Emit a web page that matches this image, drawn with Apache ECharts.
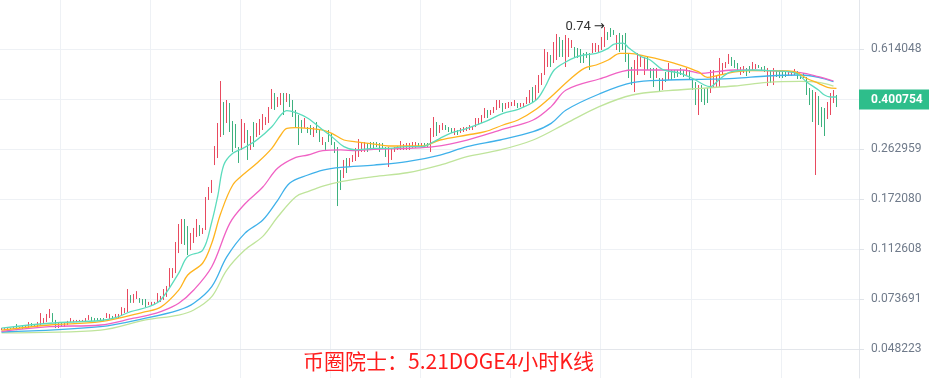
<!DOCTYPE html>
<html><head><meta charset="utf-8">
<script src="https://cdn.jsdelivr.net/npm/echarts@6/dist/echarts.min.js"></script>
<style>html,body{margin:0;padding:0;background:#fff}#c{width:929px;height:385px}</style>
</head><body><div id="c"></div>
<script>
// ---- data ----
const titleText = '币圈院士：5.21DOGE4小时K线';
const tickLabels = ['0.048223','0.073691','0.112608','0.172080','0.262959','0.401832','0.614048'];
const lastPrice = 0.400754;
const slotCount = 286; // 4h slots on the time axis (last few still empty)

const highs = [
.0576,.0576,.0576,.0576,.0581,.0596,.0581,.0586,.0591,.0606,
.0601,.0596,.0606,.0654,.0627,.0649,.0677,.0654,.0617,.0606,
.0601,.0601,.0612,.0627,.0617,.0617,.0617,.0617,.0627,.0643,
.0633,.0627,.0627,.0627,.0627,.0654,.0649,.0638,.0649,.0649,
.0688,.0683,.0802,.0762,.0769,.0788,.0743,.0737,.0737,.0719,
.0719,.0719,.0775,.0756,.0802,.0823,.0958,.0958,.1195,.1392,
.1452,.1452,.1368,.1290,.1346,.1452,.1380,.1346,.1750,.1905,
.2022,.2697,.3278,.4681,.3917,.3984,.3884,.3334,.3250,.2674,
.3391,.3278,.3089,.2936,.3306,.3278,.3391,.3538,.3449,.3754,
.4374,.4228,.4087,.4228,.4228,.4228,.4192,.3984,.3661,.3508,
.3362,.3420,.3168,.3223,.3168,.3306,.3089,.2911,.2790,.3089,
.3011,.2790,.2674,.2200,.2396,.2436,.2436,.2499,.2652,.2862,
.2767,.2790,.2767,.2790,.2790,.2790,.2767,.2767,.2674,.2674,
.2652,.2674,.2697,.2814,.2743,.2767,.2767,.2790,.2790,.2767,
.2767,.2767,.2767,.3142,.3449,.3306,.3223,.3278,.3223,.3168,
.3142,.3142,.3089,.3142,.3168,.3168,.3223,.3195,.3420,.3420,
.3508,.3723,.3661,.3661,.3754,.3984,.3984,.3884,.3884,.3917,
.3917,.3984,.3884,.3884,.3884,.4087,.4337,.4448,.4524,.4925,
.5010,.6140,.5986,.5836,.6516,.6974,.6799,.6628,.6915,.6742,
.6628,.6245,.6192,.6140,.5935,.5986,.5935,.6461,.6461,.6352,
.6799,.7400,.7093,.7337,.7215,.6915,.7034,.6915,.7034,.5935,
.5271,.5593,.5935,.5836,.5738,.5738,.5227,.5227,.5227,.4801,
.4801,.5053,.5453,.5139,.5139,.5139,.5227,.5139,.5227,.5139,
.4801,.4641,.4524,.4524,.4411,.4411,.5139,.5139,.4925,.5690,
.5453,.5499,.5886,.5738,.5593,.5453,.5271,.5316,.5227,.5316,
.5499,.5407,.5361,.5271,.5316,.5227,.5139,.5227,.5139,.5139,
.5053,.5053,.5096,.5053,.5183,.5096,.4967,.5010,.4842,.4411,
.4337,.4264,.4122,.3754,.3723,.3917,.4228,.4337,.4157
];
const lows = [
.0566,.0566,.0566,.0571,.0571,.0566,.0576,.0571,.0576,.0576,
.0581,.0581,.0581,.0591,.0601,.0606,.0627,.0606,.0576,.0576,
.0581,.0581,.0591,.0606,.0606,.0606,.0606,.0606,.0606,.0617,
.0612,.0612,.0612,.0612,.0612,.0627,.0622,.0622,.0627,.0627,
.0643,.0654,.0660,.0713,.0713,.0737,.0713,.0700,.0688,.0700,
.0700,.0706,.0713,.0719,.0731,.0750,.0816,.0881,.0918,.1088,
.1175,.1165,.1070,.1116,.1185,.1247,.1257,.1279,.1323,.1706,
.1811,.2295,.2436,.2911,.2961,.3278,.3037,.2564,.2652,.2336,
.2608,.2767,.2396,.2608,.2674,.2911,.2961,.3089,.3223,.3278,
.3692,.3661,.3754,.3818,.3508,.3917,.3754,.3449,.3142,.2720,
.3011,.3142,.3011,.2961,.2911,.3011,.2790,.2720,.2608,.2790,
.2720,.2542,.1621,.1857,.2056,.2145,.2257,.2355,.2375,.2457,
.2564,.2564,.2564,.2652,.2608,.2674,.2564,.2652,.2457,.2257,
.2396,.2564,.2608,.2608,.2608,.2608,.2608,.2652,.2652,.2674,
.2674,.2674,.2674,.2564,.2911,.2936,.3011,.3089,.3089,.3037,
.3011,.2961,.2961,.3011,.3037,.3063,.3089,.3089,.3168,.3223,
.3278,.3420,.3420,.3508,.3569,.3661,.3723,.3599,.3692,.3723,
.3786,.3786,.3723,.3754,.3754,.3851,.3884,.3917,.3984,.4228,
.4524,.4925,.5271,.5271,.5453,.5593,.5738,.5738,.5271,.5738,
.6192,.5738,.5690,.5453,.5453,.5690,.5139,.5935,.5986,.5935,
.6088,.6245,.6628,.6799,.6915,.6088,.5986,.6088,.5499,.4801,
.4524,.4264,.4925,.5271,.4925,.5139,.4801,.4448,.4801,.4264,
.4337,.4641,.4721,.4721,.4801,.4842,.4925,.4842,.4925,.4721,
.4337,.3818,.3508,.3917,.3818,.3884,.4228,.4411,.4448,.4448,
.4925,.5227,.5407,.5316,.5227,.5139,.4925,.5010,.4883,.5010,
.5096,.5183,.5227,.5139,.5053,.4486,.4602,.4524,.4842,.4801,
.4801,.4842,.4883,.4883,.4925,.4761,.4761,.4801,.4157,.3818,
.3306,.2109,.3223,.3168,.2936,.3391,.3508,.3884,.3754
];
// r = rising (red), g = falling (green)
const dirs =
'rrrgrgggrr'+'ggrrrrrggr'+'grrrrrrrrr'+'gggggrrgrr'+'rrrgrrgggr'+
'rrrrrrrrrr'+'rggrrrgrrr'+'rrrrgrgggg'+'rrgrgrrrrr'+'rgrrgrgggg'+
'grggrggrgg'+'ggggrgrrrr'+'rrgggggggr'+'rrrrrrrrrg'+'rggrrgrrgg'+
'grgrrrrrrr'+'rrgrrrrgrr'+'rrgrrrrgrr'+'rrrgrrggrr'+'rggggggrrr'+
'rrgggrgggg'+'grrrrgggrg'+'rgrgggggrg'+'ggrgggrrrr'+'rrrgggrrgg'+
'rrgggrgrgg'+'ggrrrggggg'+'grgggrrrg';

// moving average lines: [slot index, price]
const maTeal = [[0,.0576],[16,.0600],[33,.0614],[38,.0629],[43,.0662],[49,.0690],[53,.0731],[59,.0918],[62,.1056],[67,.1116],[70,.1416],[72,.1765],[74,.2295],[77,.2535],[81,.2667],[85,.2838],[90,.3176],[93,.3508],[95,.3640],[98,.3578],[102,.3412],[107,.3089],[110,.2919],[114,.2683],[118,.2608],[124,.2645],[129,.2645],[135,.2683],[140,.2683],[144,.2800],[146,.2879],[150,.3019],[155,.3133],[161,.3315],[167,.3560],[172,.3683],[178,.3984],[181,.4459],[184,.5139],[188,.5513],[191,.5719],[194,.5836],[198,.5918],[202,.6177],[204,.6406],[207,.6450],[209,.6177],[213,.5758],[216,.5593],[220,.5170],[226,.4997],[230,.4790],[234,.4524],[236,.4460],[239,.4740],[243,.5066],[250,.5139],[256,.5109],[262,.5066],[265,.4967],[268,.4654],[272,.4337],[274,.4157],[276,.4087],[278,.4087]];
const maOrange = [[0,.0566],[16,.0591],[33,.0608],[48,.0662],[53,.0688],[59,.0795],[62,.0903],[67,.1000],[70,.1182],[73,.1524],[77,.1938],[81,.2139],[85,.2330],[90,.2645],[93,.2961],[95,.3133],[98,.3150],[102,.3133],[107,.3089],[110,.3003],[114,.2838],[118,.2795],[124,.2743],[129,.2697],[140,.2697],[146,.2838],[155,.2961],[161,.3045],[167,.3223],[172,.3362],[178,.3683],[183,.4097],[189,.4721],[194,.5213],[198,.5361],[202,.5593],[206,.5918],[209,.5918],[215,.5758],[220,.5593],[226,.5361],[232,.5066],[235,.4829],[239,.4925],[245,.5066],[250,.5109],[256,.5109],[262,.5096],[265,.5024],[268,.4790],[272,.4590],[275,.4437],[278,.4400]];
const maPink = [[0,.0560],[16,.0583],[33,.0591],[44,.0626],[49,.0643],[53,.0662],[59,.0711],[64,.0795],[70,.0969],[76,.1400],[81,.1649],[87,.1905],[92,.2238],[98,.2450],[102,.2499],[107,.2593],[113,.2608],[118,.2593],[124,.2623],[135,.2645],[144,.2683],[155,.2838],[166,.3089],[177,.3362],[183,.3767],[188,.4337],[199,.4761],[210,.5139],[222,.5139],[227,.5139],[233,.4997],[238,.5066],[244,.5139],[255,.5109],[266,.5024],[272,.4855],[277,.4681]];
const maBlue = [[0,.0557],[33,.0583],[48,.0626],[59,.0671],[64,.0711],[70,.0819],[75,.1053],[81,.1286],[87,.1440],[92,.1706],[96,.1971],[102,.2109],[107,.2200],[113,.2250],[124,.2295],[135,.2362],[146,.2499],[155,.2683],[166,.2838],[177,.3045],[183,.3269],[188,.3661],[199,.4192],[210,.4614],[222,.4721],[233,.4749],[244,.4790],[255,.4883],[266,.4925],[272,.4829],[277,.4654]];
const maLime = [[0,.0553],[33,.0566],[48,.0617],[59,.0643],[64,.0671],[70,.0752],[75,.0942],[81,.1116],[87,.1253],[92,.1480],[98,.1755],[102,.1832],[107,.1921],[113,.1994],[124,.2080],[135,.2150],[146,.2295],[155,.2464],[166,.2608],[177,.2838],[188,.3269],[199,.3767],[210,.4157],[222,.4311],[233,.4400],[244,.4486],[255,.4628],[266,.4665],[272,.4628],[277,.4486]];

// ---- log price scale (ticks every factor of tickLabels ratio) ----
const BASE = parseFloat(tickLabels[0]);
const RATIO = Math.pow(parseFloat(tickLabels[6]) / BASE, 1 / 6);
const T = v => Math.log(v / BASE) / Math.log(RATIO);

const RED = '#e84a5f', GREEN = '#3db17e';
const categories = Array.from({length: slotCount}, (_, i) => String(i));
const kData = highs.map((h, i) => {
  const l = lows[i];
  const up = dirs[i] === 'r';
  const o = up ? l : h;
  const c = (i === highs.length - 1) ? lastPrice : (up ? h : l);
  return [T(o), T(c), T(l), T(h)];
});
let maxIdx = 0;
highs.forEach((h, i) => { if (h > highs[maxIdx]) maxIdx = i; });

const maLine = (arr, color) => ({
  type: 'line', data: arr.map(([i, v]) => [i, T(v)]), symbol: 'none', smooth: 0.35,
  lineStyle: {width: 1.3, color}, itemStyle: {color}, silent: true, z: 3
});

const chart = echarts.init(document.getElementById('c'), null, {renderer: 'canvas'});
chart.setOption({
  animation: false,
  backgroundColor: '#ffffff',
  textStyle: {fontFamily: 'Roboto, "Noto Sans", sans-serif'},
  title: {
    text: titleText, left: 303, top: 351, padding: 0,
    textStyle: {color: '#ff1c1c', fontSize: 21, fontWeight: 'normal', fontFamily: '"Noto Sans CJK SC", sans-serif'}
  },
  grid: {left: 0, right: 70, top: 0, bottom: 7},
  xAxis: {
    type: 'category', data: categories, boundaryGap: true,
    axisLine: {show: true, lineStyle: {color: '#e3e6eb'}},
    axisTick: {show: false}, axisLabel: {show: false},
    splitLine: {show: true, interval: (i) => i % 30 === 20, lineStyle: {color: '#eef1f5', width: 1}}
  },
  yAxis: {
    type: 'value', position: 'right', scale: true,
    min: -0.58, max: 6.98,
    axisLine: {show: true, lineStyle: {color: '#e3e6eb'}},
    axisTick: {show: true, length: 5, inside: false, lineStyle: {color: '#dfe3e8'}, customValues: [0,1,2,3,4,5,6]},
    axisLabel: {
      customValues: [0,1,2,3,4,6], color: '#6f7a8a', fontSize: 12, margin: 12,
      formatter: v => tickLabels[Math.round(v)] || ''
    },
    splitLine: {show: true, lineStyle: {color: '#eef1f5', width: 1}}
  },
  series: [
    {
      type: 'candlestick', data: kData, barWidth: 1, z: 2,
      itemStyle: {color: RED, color0: GREEN, borderColor: RED, borderColor0: GREEN, borderWidth: 1},
      markPoint: {
        symbol: 'circle', symbolSize: 1, silent: true,
        itemStyle: {color: 'rgba(0,0,0,0)'},
        label: {show: true, position: 'left', distance: 0,
          formatter: () => '{n|' + highs[maxIdx].toFixed(2) + '} {a|→}',
          rich: {
            n: {color: '#333', fontSize: 13, fontFamily: 'Roboto, sans-serif'},
            a: {color: '#222', fontSize: 13, fontFamily: '"DejaVu Sans", sans-serif'}
          }},
        data: [{coord: [maxIdx, T(highs[maxIdx])]}]
      },
      markLine: {
        silent: true, symbol: ['none', 'none'],
        lineStyle: {color: 'rgba(0,0,0,0)', width: 1, type: 'solid'},
        label: {show: true, position: 'end', distance: 0, formatter: lastPrice.toFixed(6),
          backgroundColor: '#2ebe8b', color: '#ffffff', fontSize: 12, fontWeight: 'bold',
          lineHeight: 12, padding: [4, 8, 4, 12]},
        data: [{yAxis: T(lastPrice)}]
      }
    },
    maLine(maLime, '#bfe49b'),
    maLine(maBlue, '#3fb1ea'),
    maLine(maPink, '#f062c4'),
    maLine(maOrange, '#ffb41f'),
    maLine(maTeal, '#5cdcbd')
  ]
});
</script></body></html>
